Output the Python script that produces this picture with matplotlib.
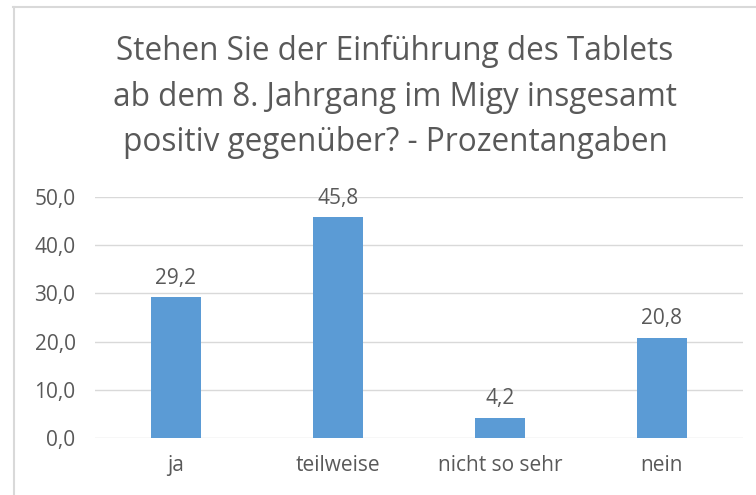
import matplotlib
matplotlib.use("Agg")
import matplotlib.pyplot as plt
from matplotlib.lines import Line2D

categories = ["ja", "teilweise", "nicht so sehr", "nein"]
values = [29.2, 45.8, 4.2, 20.8]
yticks = [0, 10, 20, 30, 40, 50]
title = "Stehen Sie der Einführung des Tablets\nab dem 8. Jahrgang im Migy insgesamt\npositiv gegenüber? - Prozentangaben"

plt.rcParams['font.family'] = ['Open Sans', 'DejaVu Sans']
TXT = '#595959'
BAR = '#5B9BD5'
GRID = '#D9D9D9'

fig = plt.figure(figsize=(7.56, 4.95), dpi=100)
ax = fig.add_axes([95/756, 1-438/495, (743-95)/756, (438-197)/495])

x = list(range(len(categories)))
ax.bar(x, values, width=0.31, color=BAR, zorder=3)
for xi, v in zip(x, values):
    ax.annotate(f"{v:.1f}".replace('.', ','), (xi, v), xytext=(0, 6), textcoords='offset points',
                ha='center', va='bottom', fontsize=15, color=TXT)

ax.set_xlim(-0.5, 3.5)
ax.set_ylim(0, 50)
ax.set_yticks(yticks)
ax.set_yticklabels([f"{t:.1f}".replace('.', ',') for t in yticks], fontsize=15, color=TXT)
ax.set_xticks(x)
ax.set_xticklabels(categories, fontsize=15, color=TXT)
ax.tick_params(axis='both', length=0)
ax.tick_params(axis='y', pad=14)
ax.tick_params(axis='x', pad=12)
ax.yaxis.grid(True, color=GRID, linewidth=1, zorder=0)
for s in ax.spines.values():
    s.set_visible(False)

fig.text(395/756, 1-97/495, title, ha='center', va='center', fontsize=22.7, color=TXT,
         linespacing=1.5, multialignment='center')

# chart area border (left and top only visible)
fig.add_artist(Line2D([13.5/756, 13.5/756], [0, 1-7/495], color=GRID, linewidth=1.5))
fig.add_artist(Line2D([13/756, 1], [1-7/495, 1-7/495], color=GRID, linewidth=1.5))

fig.savefig("out.png", dpi=100)
